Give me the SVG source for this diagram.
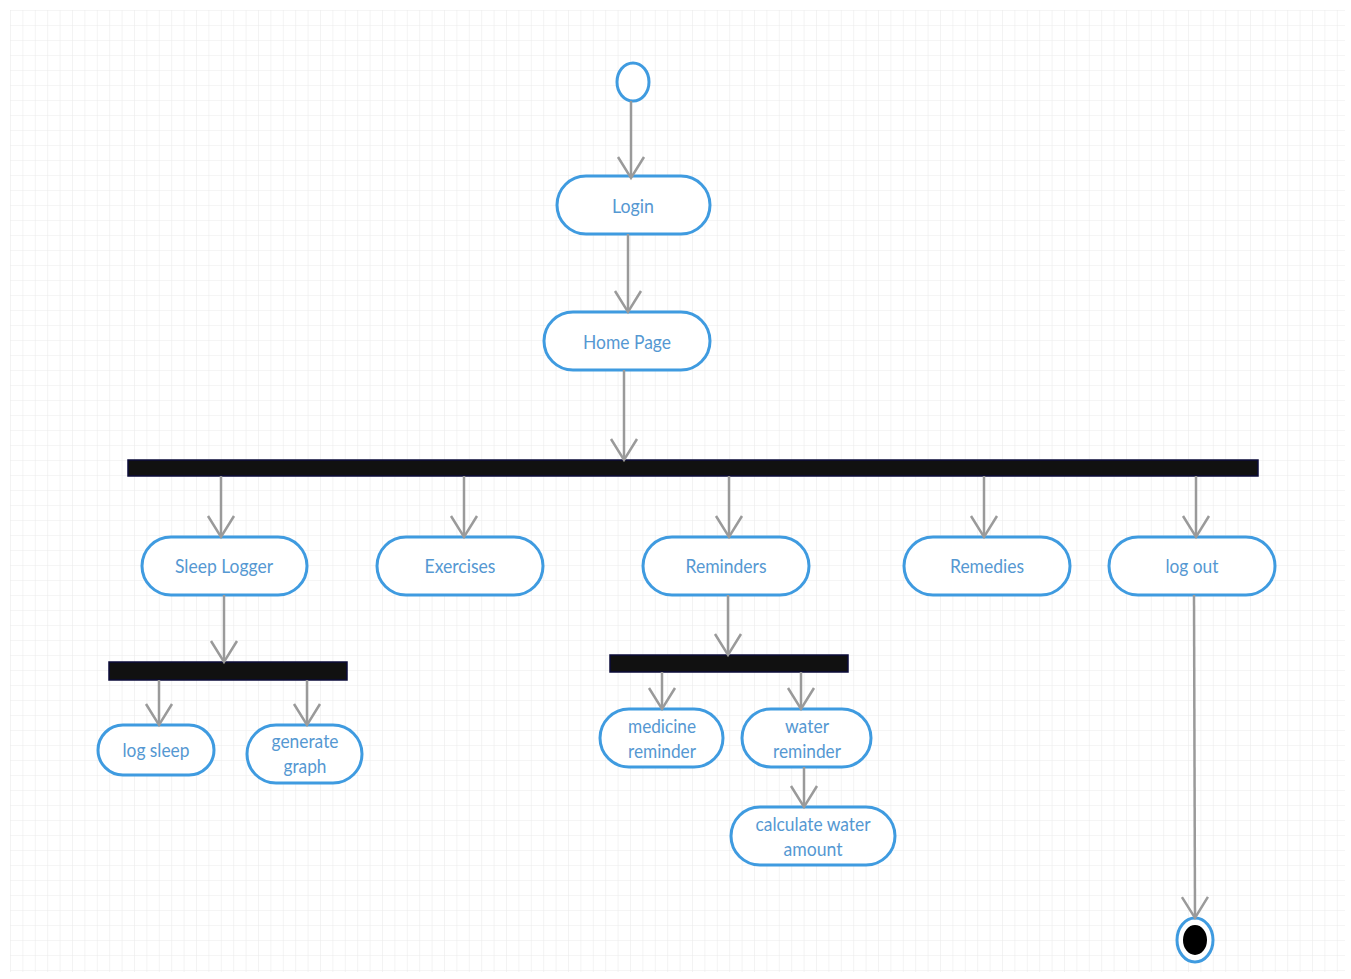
<svg xmlns="http://www.w3.org/2000/svg" width="1351" height="979" viewBox="0 0 1351 979">
<defs>
<pattern id="grid" x="10" y="10" width="12.4" height="15" patternUnits="userSpaceOnUse">
<path d="M0,0 V15 M0,0 H12.4" fill="none" stroke="#ececec" stroke-width="1.2"/>
</pattern>
<marker id="arr" markerUnits="userSpaceOnUse" markerWidth="30" markerHeight="30" viewBox="-25 -15 30 30" refX="0" refY="0" orient="auto">
<path d="M-21,-13 L0,0 L-21,13" fill="none" stroke="#9a9a9a" stroke-width="2.5"/>
</marker>
</defs>
<style>
.act{fill:#fff;stroke:#3f9be0;stroke-width:3}
.bar{fill:#111;stroke:#0b0b3a;stroke-width:1.5}
.lbl{font-family:Lato,"Liberation Sans",sans-serif;font-size:20px;fill:#5598d2;text-anchor:middle}
.con line{stroke:#9a9a9a;stroke-width:2.5;marker-end:url(#arr)}
</style>
<rect width="1351" height="979" fill="#fff"/>
<rect x="10" y="10" width="1335" height="962" fill="url(#grid)"/>

<g id="start"><ellipse class="act" cx="633" cy="82" rx="16" ry="19"/></g>
<g id="login"><rect class="act" x="557" y="176" width="153" height="58" rx="29"/><text class="lbl" x="633" y="213" textLength="42" lengthAdjust="spacingAndGlyphs">Login</text></g>
<g id="home"><rect class="act" x="544" y="312" width="166" height="58" rx="29"/><text class="lbl" x="627" y="349" textLength="88" lengthAdjust="spacingAndGlyphs">Home Page</text></g>
<g id="fork1"><rect class="bar" x="128" y="460" width="1130" height="16"/></g>
<g id="sleep"><rect class="act" x="142" y="537" width="165" height="58" rx="29"/><text class="lbl" x="224" y="573" textLength="98" lengthAdjust="spacingAndGlyphs">Sleep Logger</text></g>
<g id="exercises"><rect class="act" x="377" y="537" width="166" height="58" rx="29"/><text class="lbl" x="460" y="573" textLength="71" lengthAdjust="spacingAndGlyphs">Exercises</text></g>
<g id="reminders"><rect class="act" x="643" y="537" width="166" height="58" rx="29"/><text class="lbl" x="726" y="573" textLength="81" lengthAdjust="spacingAndGlyphs">Reminders</text></g>
<g id="remedies"><rect class="act" x="904" y="537" width="166" height="58" rx="29"/><text class="lbl" x="987" y="573" textLength="74" lengthAdjust="spacingAndGlyphs">Remedies</text></g>
<g id="logout"><rect class="act" x="1109" y="537" width="166" height="58" rx="29"/><text class="lbl" x="1192" y="573" textLength="53" lengthAdjust="spacingAndGlyphs">log out</text></g>
<g id="fork2"><rect class="bar" x="109" y="662" width="238" height="18"/></g>
<g id="logsleep"><rect class="act" x="98" y="725" width="116" height="50" rx="25"/><text class="lbl" x="156" y="757" textLength="67" lengthAdjust="spacingAndGlyphs">log sleep</text></g>
<g id="graph"><rect class="act" x="247" y="725" width="115" height="58" rx="29"/><text class="lbl" x="305" y="748" textLength="67" lengthAdjust="spacingAndGlyphs">generate</text><text class="lbl" x="305" y="773" textLength="43" lengthAdjust="spacingAndGlyphs">graph</text></g>
<g id="fork3"><rect class="bar" x="610" y="655" width="238" height="17"/></g>
<g id="medicine"><rect class="act" x="600" y="709" width="123" height="58" rx="29"/><text class="lbl" x="662" y="733" textLength="68" lengthAdjust="spacingAndGlyphs">medicine</text><text class="lbl" x="662" y="758" textLength="68" lengthAdjust="spacingAndGlyphs">reminder</text></g>
<g id="water"><rect class="act" x="742" y="709" width="129" height="58" rx="29"/><text class="lbl" x="807" y="733" textLength="44" lengthAdjust="spacingAndGlyphs">water</text><text class="lbl" x="807" y="758" textLength="68" lengthAdjust="spacingAndGlyphs">reminder</text></g>
<g id="calc"><rect class="act" x="731" y="807" width="164" height="58" rx="29"/><text class="lbl" x="813" y="831" textLength="115" lengthAdjust="spacingAndGlyphs">calculate water</text><text class="lbl" x="813" y="856" textLength="59" lengthAdjust="spacingAndGlyphs">amount</text></g>
<g id="end"><ellipse cx="1195" cy="940" rx="18" ry="22" fill="#fff" stroke="#3f9be0" stroke-width="3"/><ellipse cx="1195" cy="940" rx="12" ry="15" fill="#000"/></g>

<g id="connectors" class="con">
<line x1="631" y1="101" x2="631" y2="178"/>
<line x1="628" y1="234" x2="628" y2="312"/>
<line x1="624" y1="370" x2="624" y2="460"/>
<line x1="221" y1="476" x2="221" y2="537"/>
<line x1="464" y1="476" x2="464" y2="537"/>
<line x1="729" y1="476" x2="729" y2="537"/>
<line x1="984" y1="476" x2="984" y2="537"/>
<line x1="1196" y1="476" x2="1196" y2="537"/>
<line x1="224" y1="595" x2="224" y2="662"/>
<line x1="159" y1="680" x2="159" y2="725"/>
<line x1="307" y1="680" x2="307" y2="725"/>
<line x1="728" y1="595" x2="728" y2="655"/>
<line x1="662" y1="672" x2="662" y2="709"/>
<line x1="801" y1="672" x2="801" y2="709"/>
<line x1="804" y1="767" x2="804" y2="807"/>
<line x1="1194" y1="595" x2="1195" y2="918"/>
</g>
</svg>
